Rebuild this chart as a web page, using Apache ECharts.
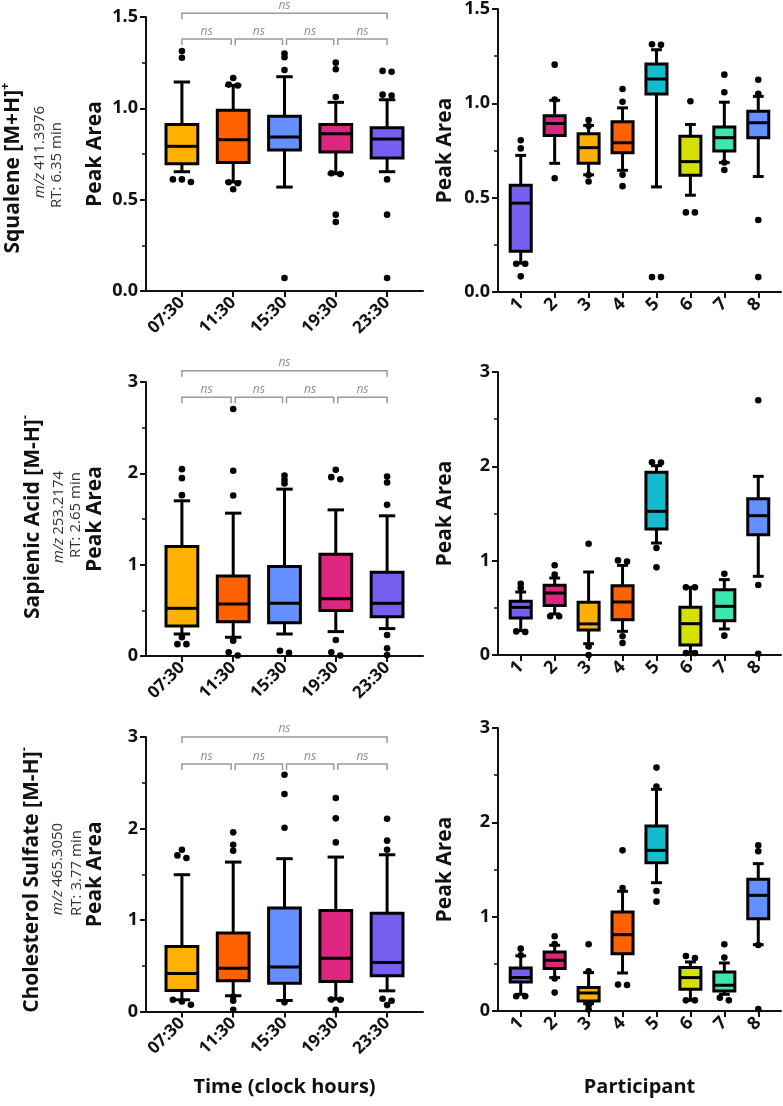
<!DOCTYPE html>
<html>
<head>
<meta charset="utf-8">
<script src="https://cdn.jsdelivr.net/npm/echarts@6/dist/echarts.min.js"></script>
<style>
  html, body { margin: 0; padding: 0; background: #fff; }
  #chart { width: 783px; height: 1106px; }
</style>
</head>
<body>
<div id="chart"></div>
<script>
// categories
const times = ['07:30', '11:30', '15:30', '19:30', '23:30'];
const participants = ['1', '2', '3', '4', '5', '6', '7', '8'];
const timeColors = ['#FFB000', '#FE6100', '#648FFF', '#DC267F', '#785EF0'];
const participantColors = ['#785EF0', '#DC267F', '#FFB000', '#FE6100', '#12BCCD', '#D4E000', '#3CE6B0', '#648FFF'];

// boxes: [low whisker, Q1, median, Q3, high whisker]
const squaleneTime = [
    [0.653, 0.697, 0.792, 0.912, 1.144],
    [0.597, 0.703, 0.828, 0.989, 1.126],
    [0.569, 0.772, 0.843, 0.956, 1.173],
    [0.642, 0.761, 0.861, 0.912, 1.033],
    [0.653, 0.728, 0.832, 0.894, 1.047]
];
const squaleneTimeOut = [
    [1.314, 1.277, 0.611, 0.611, 0.597],
    [1.166, 1.13, 1.125, 0.595, 0.59, 0.557],
    [1.30, 1.28, 1.21, 0.071],
    [1.25, 1.214, 1.062, 0.645, 0.64, 0.418, 0.378],
    [1.205, 1.2, 1.075, 1.07, 0.611, 0.418, 0.071]
];
const squalenePart = [
    [0.153, 0.216, 0.471, 0.566, 0.724],
    [0.682, 0.830, 0.893, 0.934, 1.016],
    [0.621, 0.682, 0.765, 0.839, 0.883],
    [0.645, 0.738, 0.791, 0.902, 0.976],
    [0.557, 1.050, 1.129, 1.208, 1.284],
    [0.513, 0.619, 0.691, 0.826, 0.888],
    [0.686, 0.747, 0.818, 0.874, 1.006],
    [0.612, 0.818, 0.897, 0.958, 1.037]
];
const squalenePartOut = [
    [0.804, 0.761, 0.15, 0.15, 0.083],
    [1.205, 1.02, 0.603],
    [0.911, 0.88, 0.62, 0.586],
    [1.076, 1.008, 0.621, 0.561],
    [1.313, 1.31, 0.079, 0.079],
    [1.011, 0.422, 0.422],
    [1.152, 1.059, 0.686, 0.647],
    [1.125, 1.05, 0.382, 0.079]
];

const sapienicTime = [
    [0.241, 0.329, 0.522, 1.198, 1.699],
    [0.205, 0.376, 0.570, 0.877, 1.564],
    [0.241, 0.365, 0.577, 0.979, 1.827],
    [0.267, 0.497, 0.628, 1.114, 1.600],
    [0.300, 0.431, 0.577, 0.917, 1.535]
];
const sapienicTimeOut = [
    [2.046, 1.947, 1.761, 0.205, 0.13, 0.13],
    [2.704, 2.028, 1.757, 0.168, 0.04, 0.005],
    [1.977, 1.93, 1.89, 0.058, 0.036],
    [2.039, 1.958, 1.936, 0.175, 0.04, 0.005],
    [1.966, 1.9, 1.655, 0.23, 0.084, 0.01]
];
const sapienicPart = [
    [0.258, 0.392, 0.505, 0.569, 0.668],
    [0.435, 0.526, 0.657, 0.739, 0.816],
    [0.120, 0.265, 0.330, 0.560, 0.880],
    [0.251, 0.375, 0.562, 0.735, 0.950],
    [1.187, 1.336, 1.523, 1.936, 2.007],
    [0.028, 0.106, 0.332, 0.505, 0.717],
    [0.276, 0.364, 0.516, 0.693, 0.799],
    [0.834, 1.276, 1.477, 1.657, 1.894]
];
const sapienicPartOut = [
    [0.756, 0.71, 0.25, 0.245],
    [0.951, 0.852, 0.41, 0.41],
    [1.18, 0.09, 0.0],
    [1.003, 0.99, 0.198, 0.127],
    [2.042, 2.04, 1.134, 0.929],
    [0.717, 0.717, 0.02, 0.02],
    [0.862, 0.205],
    [2.70, 0.742, 0.014]
];

const cholesterolTime = [
    [0.128, 0.230, 0.415, 0.711, 1.495],
    [0.172, 0.336, 0.474, 0.857, 1.633],
    [0.120, 0.310, 0.485, 1.130, 1.670],
    [0.135, 0.328, 0.583, 1.105, 1.688],
    [0.226, 0.390, 0.536, 1.075, 1.713]
];
const cholesterolTimeOut = [
    [1.768, 1.706, 1.677, 0.128, 0.11, 0.073],
    [1.958, 1.823, 1.757, 0.164, 0.117, 0.019],
    [2.588, 2.377, 2.009, 0.1],
    [2.333, 2.111, 1.848, 0.13, 0.128, 0.019],
    [2.107, 1.867, 1.768, 0.139, 0.117, 0.07]
];
const cholesterolPart = [
    [0.177, 0.308, 0.355, 0.456, 0.585],
    [0.354, 0.450, 0.538, 0.626, 0.697],
    [0.078, 0.106, 0.191, 0.248, 0.407],
    [0.403, 0.608, 0.809, 1.049, 1.269],
    [1.360, 1.572, 1.703, 1.961, 2.350],
    [0.113, 0.230, 0.354, 0.460, 0.520],
    [0.177, 0.212, 0.273, 0.414, 0.509],
    [0.703, 0.979, 1.226, 1.396, 1.562]
];
const cholesterolPartOut = [
    [0.661, 0.59, 0.156, 0.156],
    [0.792, 0.71, 0.345, 0.195],
    [0.707, 0.42, 0.06, 0.015],
    [1.703, 1.304, 0.28, 0.275],
    [2.58, 2.38, 1.272, 1.159],
    [0.583, 0.562, 0.113, 0.113],
    [0.707, 0.566, 0.14, 0.113],
    [1.756, 1.693, 0.7, 0.02]
];

// significance brackets between time points (all ns)
const bracketPairs = [[0, 1], [1, 2], [2, 3], [3, 4], [0, 4]];
const bracketLevels = [[1.379, 1.52], [2.833, 3.124], [2.704, 3.0]]; // [pairwise, overall] per row

const FONT = 'Open Sans';
const INK = '#111';

const chart = echarts.init(document.getElementById('chart'), null, { renderer: 'canvas' });

const grids = [
    { left: 146, top: 17, width: 277, height: 274 },
    { left: 498, top: 7, width: 283, height: 285 },
    { left: 146, top: 382, width: 277, height: 274 },
    { left: 498, top: 372, width: 283, height: 283 },
    { left: 146, top: 737, width: 277, height: 274.5 },
    { left: 498, top: 728, width: 283, height: 283 }
];

function xAxis(gridIndex, labels, pad, size, name) {
    const idx = labels.map((_, i) => i);
    return {
        type: 'value', gridIndex, min: -pad, max: labels.length - 1 + pad,
        name: name || '', nameLocation: 'middle', nameGap: 66,
        nameTextStyle: { fontFamily: FONT, fontSize: 20, fontWeight: 'bold', color: INK },
        axisLine: { show: true, onZero: false, lineStyle: { color: INK, width: 2 } },
        axisTick: { show: true, customValues: idx, length: 6, lineStyle: { color: INK, width: 2 } },
        axisLabel: {
            customValues: idx, rotate: 45, margin: 9,
            formatter: v => labels[Math.round(v)],
            fontFamily: FONT, fontSize: size, fontWeight: 'bold', color: INK
        },
        splitLine: { show: false }
    };
}

function yAxis(gridIndex, max, interval, decimals, gap) {
    return {
        type: 'value', gridIndex, min: 0, max, interval,
        name: 'Peak Area', nameLocation: 'middle', nameGap: gap,
        nameTextStyle: { fontFamily: FONT, fontSize: 21, fontWeight: 'bold', color: INK },
        axisLine: { show: true, onZero: false, lineStyle: { color: INK, width: 2 } },
        axisTick: { show: true, length: 6, lineStyle: { color: INK, width: 2 } },
        minorTick: { show: true, splitNumber: 2, length: 4, lineStyle: { color: INK, width: 1.5 } },
        axisLabel: {
            margin: 8, formatter: v => v.toFixed(decimals),
            fontFamily: FONT, fontSize: 18, fontWeight: 'bold', color: INK
        },
        splitLine: { show: false },
        minorSplitLine: { show: false }
    };
}

function boxSeries(axisIndex, boxes, colors) {
    return {
        type: 'custom', xAxisIndex: axisIndex, yAxisIndex: axisIndex, clip: false, z: 2,
        data: boxes.map((b, i) => [i].concat(b)),
        renderItem(params, api) {
            const x = api.value(0);
            const lo = api.coord([x, api.value(1)]);
            const q1 = api.coord([x, api.value(2)]);
            const md = api.coord([x, api.value(3)]);
            const q3 = api.coord([x, api.value(4)]);
            const hi = api.coord([x, api.value(5)]);
            const band = api.size([1, 0])[0];
            const bw = band * 0.62, cw = band * 0.32;
            const cx = lo[0];
            const ln = { stroke: '#000', lineWidth: 3 };
            return {
                type: 'group',
                children: [
                    { type: 'line', shape: { x1: cx, y1: q3[1], x2: cx, y2: hi[1] }, style: ln },
                    { type: 'line', shape: { x1: cx, y1: q1[1], x2: cx, y2: lo[1] }, style: ln },
                    { type: 'line', shape: { x1: cx - cw / 2, y1: hi[1], x2: cx + cw / 2, y2: hi[1] }, style: ln },
                    { type: 'line', shape: { x1: cx - cw / 2, y1: lo[1], x2: cx + cw / 2, y2: lo[1] }, style: ln },
                    { type: 'rect', shape: { x: cx - bw / 2, y: q3[1], width: bw, height: q1[1] - q3[1] },
                      style: { fill: colors[params.dataIndex], stroke: '#000', lineWidth: 3 } },
                    { type: 'line', shape: { x1: cx - bw / 2, y1: md[1], x2: cx + bw / 2, y2: md[1] }, style: ln }
                ]
            };
        }
    };
}

// spread outliers that sit on (almost) the same value side by side
function swarm(outliers, range) {
    const tol = range * 0.0125;
    const out = [];
    outliers.forEach((vals, cat) => {
        const sorted = vals.slice().sort((a, b) => b - a);
        let group = [];
        const flush = () => {
            group.forEach((v, k) => out.push([cat, v, k - (group.length - 1) / 2]));
            group = [];
        };
        sorted.forEach(v => {
            if (group.length && group[group.length - 1] - v > tol) flush();
            group.push(v);
        });
        flush();
    });
    return out;
}

function outlierSeries(axisIndex, outliers, range) {
    return {
        type: 'custom', xAxisIndex: axisIndex, yAxisIndex: axisIndex, clip: false, z: 3,
        data: swarm(outliers, range),
        renderItem(params, api) {
            const p = api.coord([api.value(0), api.value(1)]);
            return { type: 'circle', shape: { cx: p[0] + api.value(2) * 9, cy: p[1], r: 3.3 }, style: { fill: '#000' } };
        }
    };
}

function bracketSeries(axisIndex, levels) {
    const last = times.length - 1;
    return {
        type: 'custom', xAxisIndex: axisIndex, yAxisIndex: axisIndex, clip: false, z: 1,
        data: bracketPairs.map((pr, k) => [pr[0], pr[1], k < 4 ? levels[0] : levels[1]]),
        renderItem(params, api) {
            const a = api.value(0), b = api.value(1);
            const p1 = api.coord([a, api.value(2)]);
            const p2 = api.coord([b, api.value(2)]);
            const x1 = p1[0] + (a === 0 ? 0 : 2);
            const x2 = p2[0] - (b === last ? 0 : 2);
            const y = p1[1];
            return {
                type: 'group',
                children: [
                    { type: 'polyline', shape: { points: [[x1, y + 6], [x1, y], [x2, y], [x2, y + 6]] },
                      style: { stroke: '#9a9a9a', lineWidth: 1.5, fill: null } },
                    { type: 'text', style: { text: 'ns', x: (x1 + x2) / 2, y: y - 8, align: 'center', verticalAlign: 'middle',
                      fontFamily: FONT, fontSize: 12, fontStyle: 'italic', fill: '#8f8f8f' } }
                ]
            };
        }
    };
}

function rowLabel(title, ion, mz, rt, pos) {
    const small = { fontFamily: FONT, fontSize: 15, fill: '#333' };
    return [
        {
            type: 'text', x: pos[0][0], y: pos[0][1], rotation: Math.PI / 2,
            style: {
                text: '{b|' + title + '}{s|' + ion + '}', align: 'center', verticalAlign: 'middle',
                rich: {
                    b: { fontFamily: FONT, fontSize: 21, fontWeight: 'bold', fill: INK, lineHeight: 28 },
                    s: { fontFamily: FONT, fontSize: 13, fontWeight: 'bold', fill: INK, verticalAlign: 'top', lineHeight: 28 }
                }
            }
        },
        {
            type: 'text', x: pos[1][0], y: pos[1][1], rotation: Math.PI / 2,
            style: {
                text: '{i|m/z} {n|' + mz + '}', align: 'center', verticalAlign: 'middle',
                rich: { i: Object.assign({ fontStyle: 'italic' }, small), n: small }
            }
        },
        {
            type: 'text', x: pos[2][0], y: pos[2][1], rotation: Math.PI / 2,
            style: Object.assign({ text: 'RT: ' + rt + ' min', align: 'center', verticalAlign: 'middle' }, small)
        }
    ];
}

const option = {
    backgroundColor: '#fff',
    animation: false,
    grid: grids,
    xAxis: [
        xAxis(0, times, 0.7, 17),
        xAxis(1, participants, 0.67, 18),
        xAxis(2, times, 0.7, 17),
        xAxis(3, participants, 0.67, 18),
        xAxis(4, times, 0.7, 17, 'Time (clock hours)'),
        xAxis(5, participants, 0.67, 18, 'Participant')
    ],
    yAxis: [
        yAxis(0, 1.5, 0.5, 1, 40),
        yAxis(1, 1.5, 0.5, 1, 42),
        yAxis(2, 3, 1, 0, 40),
        yAxis(3, 3, 1, 0, 42),
        yAxis(4, 3, 1, 0, 40),
        yAxis(5, 3, 1, 0, 42)
    ],
    series: [
        boxSeries(0, squaleneTime, timeColors),
        outlierSeries(0, squaleneTimeOut, 1.5),
        bracketSeries(0, bracketLevels[0]),
        boxSeries(1, squalenePart, participantColors),
        outlierSeries(1, squalenePartOut, 1.5),
        boxSeries(2, sapienicTime, timeColors),
        outlierSeries(2, sapienicTimeOut, 3),
        bracketSeries(2, bracketLevels[1]),
        boxSeries(3, sapienicPart, participantColors),
        outlierSeries(3, sapienicPartOut, 3),
        boxSeries(4, cholesterolTime, timeColors),
        outlierSeries(4, cholesterolTimeOut, 3),
        bracketSeries(4, bracketLevels[2]),
        boxSeries(5, cholesterolPart, participantColors),
        outlierSeries(5, cholesterolPartOut, 3)
    ],
    graphic: [].concat(
        rowLabel('Squalene [M+H]', '+', '411.3976', '6.35', [[13, 168], [40, 152], [57, 165]]),
        rowLabel('Sapienic Acid [M-H]', '-', '253.2174', '2.65', [[33, 517], [59, 517], [76, 515]]),
        rowLabel('Cholesterol Sulfate [M-H]', '-', '465.3050', '3.77', [[32, 880], [58, 869], [77, 873]])
    )
};

chart.setOption(option);
</script>
</body>
</html>
